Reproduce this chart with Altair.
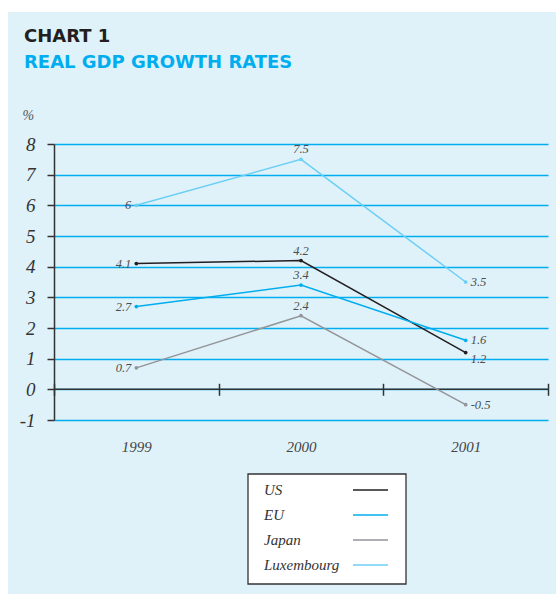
import altair as alt
import pandas as pd

years = ["1999", "2000", "2001"]
series = ["US", "EU", "Japan", "Luxembourg"]
us = [4.1, 4.2, 1.2]
eu = [2.7, 3.4, 1.6]
japan = [0.7, 2.4, -0.5]
luxembourg = [6, 7.5, 3.5]
colors = ["#231f20", "#00aeef", "#939598", "#6dcff6"]
y_ticks = [-1, 0, 1, 2, 3, 4, 5, 6, 7, 8]
title_text = "CHART 1"
subtitle_text = "REAL GDP GROWTH RATES"
unit_text = "%"

rows = []
for name, vals in zip(series, [us, eu, japan, luxembourg]):
    for yr, v in zip(years, vals):
        rows.append({"year": yr, "series": name, "value": v})
df = pd.DataFrame(rows)
legend_df = pd.DataFrame({"series": series})

W, H = 494, 276
SERIF = "Liberation Serif"

x_enc = alt.X(
    "year:N",
    sort=years,
    scale=alt.Scale(type="band", paddingInner=0, paddingOuter=0),
    axis=alt.Axis(
        title=None, orient="bottom", offset=-36.7, domain=False,
        ticks=True, tickBand="extent", tickSize=12, tickWidth=1.5, tickColor="#333333",
        labelPadding=44, labelFont=SERIF, labelFontStyle="italic", labelFontSize=15,
        labelColor="#444444", labelAngle=0, grid=False,
    ),
)
y_axis = alt.Axis(
    values=y_ticks, tickCount=10, labelOverlap=False, labelFlush=False,
    title=unit_text, titleAngle=0, titleX=-32, titleY=-29,
    titleAlign="left", titleBaseline="middle", titleFont=SERIF,
    titleFontStyle="italic", titleFontWeight="normal", titleFontSize=14,
    titleColor="#555555",
    domainColor="#333333", domainWidth=1.5, tickColor="#333333", tickSize=7,
    tickWidth=1.5, labelPadding=12, labelFont=SERIF, labelFontStyle="italic",
    labelFontSize=19, labelColor="#333333", labelExpr="'' + datum.value",
    grid=True, gridColor="#00aeef", gridWidth=1.6,
)
y_scale = alt.Scale(domain=[-1, 8], nice=False, zero=False)
y_enc = alt.Y("value:Q", scale=y_scale, axis=y_axis)

color_enc = alt.Color(
    "series:N", sort=series,
    scale=alt.Scale(domain=series, range=colors), legend=None,
)

lines = alt.Chart(df).mark_line(
    strokeWidth=1.5, point=alt.OverlayMarkDef(filled=True, size=14)
).encode(x=x_enc, y=y_enc, color=color_enc)

label_base = alt.Chart(df).transform_calculate(label="'' + datum.value")
lab_style = dict(font=SERIF, fontStyle="italic", fontSize=12.5, color="#4d4d4d")
x_lab = alt.X("year:N", sort=years)
lab1999 = label_base.transform_filter(alt.datum.year == "1999").mark_text(
    align="right", baseline="middle", dx=-5, **lab_style
).encode(x=x_lab, y=y_enc, text="label:N")
lab2000 = label_base.transform_filter(alt.datum.year == "2000").mark_text(
    align="center", baseline="middle", dy=-10, **lab_style
).encode(x=x_lab, y=y_enc, text="label:N")
lab2001 = label_base.transform_filter(
    (alt.datum.year == "2001") & (alt.datum.series != "US")
).mark_text(
    align="left", baseline="middle", dx=5, **lab_style
).encode(x=x_lab, y=y_enc, text="label:N")
lab2001_us = label_base.transform_filter(
    (alt.datum.year == "2001") & (alt.datum.series == "US")
).mark_text(
    align="left", baseline="middle", dx=5, dy=6, **lab_style
).encode(x=x_lab, y=y_enc, text="label:N")

zero_rule = alt.Chart(pd.DataFrame({"value": [0]})).mark_rule(
    color="#333333", strokeWidth=1.5
).encode(y=y_enc)

one = pd.DataFrame({"a": [0]})
strip_top = alt.Chart(one).mark_rect(color="white").encode(
    x=alt.value(-54), x2=alt.value(502), y=alt.value(-144), y2=alt.value(-132)
)
strip_left = alt.Chart(one).mark_rect(color="white").encode(
    x=alt.value(-54), x2=alt.value(-46), y=alt.value(-144), y2=alt.value(450)
)
title_mark = alt.Chart(one).mark_text(
    text=title_text, align="left", baseline="middle", font="DejaVu Sans",
    fontWeight="bold", fontSize=18, color="#231f20"
).encode(x=alt.value(-30), y=alt.value(-107))
subtitle_mark = alt.Chart(one).mark_text(
    text=subtitle_text, align="left", baseline="middle", font="DejaVu Sans",
    fontWeight="bold", fontSize=18, color="#00aeef"
).encode(x=alt.value(-30), y=alt.value(-81))

main = alt.layer(
    strip_top, strip_left, title_mark, subtitle_mark,
    zero_rule, lines, lab1999, lab2000, lab2001, lab2001_us
)

# legend box built from marks: labels on the left, line samples on the right
leg_y = alt.Y(
    "series:N", sort=series,
    scale=alt.Scale(type="point", range=[346, 421], padding=0), axis=None,
)
leg_box = alt.Chart(one).mark_rect(
    fill="white", stroke="#333333", strokeWidth=1.3
).encode(x=alt.value(194), x2=alt.value(352), y=alt.value(330), y2=alt.value(440))
leg_text = alt.Chart(legend_df).mark_text(
    align="left", baseline="middle", font=SERIF, fontStyle="italic",
    fontSize=15, color="#333333"
).encode(x=alt.value(210), y=leg_y, text="series:N")
leg_line = alt.Chart(legend_df).mark_rule(strokeWidth=1.5).encode(
    x=alt.value(299), x2=alt.value(334), y=leg_y, color=color_enc
)
legend_layer = alt.layer(leg_box, leg_text, leg_line)

chart = alt.layer(main, legend_layer).resolve_scale(y="independent").properties(
    width=W, height=H,
    autosize=alt.AutoSizeParams(type="none"),
    padding={"left": 54, "top": 144, "right": 8, "bottom": 174},
    background="#dff2fa",
).configure_view(stroke=None)

chart.save("out.html", embed_options={"renderer": "svg", "actions": False})
